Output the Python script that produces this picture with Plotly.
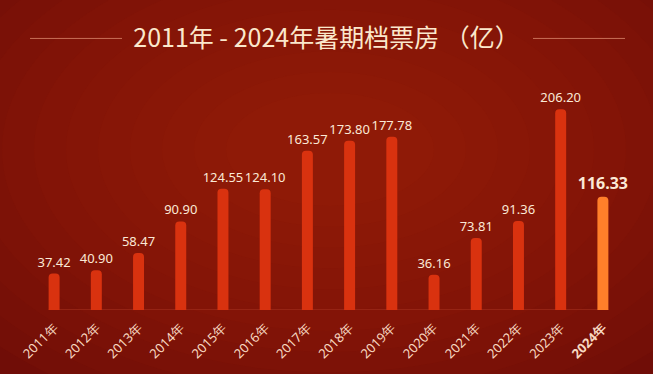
import plotly.graph_objects as go

years = ["2011年", "2012年", "2013年", "2014年", "2015年", "2016年", "2017年",
         "2018年", "2019年", "2020年", "2021年", "2022年", "2023年", "2024年"]
values = [37.42, 40.90, 58.47, 90.90, 124.55, 124.10, 163.57,
          173.80, 177.78, 36.16, 73.81, 91.36, 206.20, 116.33]
labels = [f"{v:.2f}" for v in values]
tick_text = [y if y != "2024年" else "<b>2024年</b>" for y in years]
bar_colors = ["#d9320f"] * 13 + ["#ff7f2a"]
text_sizes = [13] * 13 + [16]
text_labels = [l if i < 13 else f"<b>{l}</b>" for i, l in enumerate(labels)]
BAR_W = 0.26

fig = go.Figure()
fig.add_trace(go.Bar(
    x=years, y=values,
    width=BAR_W,
    marker=dict(color=bar_colors, line=dict(width=0), cornerradius=4),
    text=text_labels, textposition="outside", cliponaxis=False,
    constraintext="none",
    textfont=dict(color="#fbe9d6", size=text_sizes, family="Noto Sans"),
    hoverinfo="skip",
))

W, H = 653, 374
L, R, T, B = 33, 29, 86, 62
PW, PH = W - L - R, H - T - B


def px2paper_x(px):
    return (px - L) / PW


def px2paper_y(py):
    return (H - B - py) / PH


shapes = []
# soft background glow (many faint ellipses)
cx, cy = 330, 150
for k in range(14):
    rx = 520 - k * 32
    ry = 330 - k * 21
    shapes.append(dict(type="circle", xref="paper", yref="paper",
                       x0=px2paper_x(cx - rx), x1=px2paper_x(cx + rx),
                       y0=px2paper_y(cy + ry), y1=px2paper_y(cy - ry),
                       fillcolor="#a8260f", opacity=0.07, line=dict(width=0), layer="below"))
# baseline spanning the bars
shapes.append(dict(type="line", xref="x", yref="y", x0=-BAR_W / 2, x1=len(years) - 1 + BAR_W / 2,
                   y0=0, y1=0, line=dict(color="#9c2a1a", width=1.5), layer="below"))
# title decoration lines
ty = px2paper_y(38)
shapes.append(dict(type="line", xref="paper", yref="paper",
                   x0=px2paper_x(30), x1=px2paper_x(122), y0=ty, y1=ty,
                   line=dict(color="#c87058", width=1)))
shapes.append(dict(type="line", xref="paper", yref="paper",
                   x0=px2paper_x(533), x1=px2paper_x(625), y0=ty, y1=ty,
                   line=dict(color="#c87058", width=1)))

fig.update_layout(
    width=W, height=H,
    margin=dict(l=L, r=R, t=T, b=B),
    paper_bgcolor="#680907",
    plot_bgcolor="rgba(0,0,0,0)",
    showlegend=False,
    title=dict(text="2011年 - 2024年暑期档票房 （亿）", x=0.5, xanchor="center",
               y=1 - 38 / H, yanchor="middle",
               font=dict(family="Noto Sans CJK SC", size=25, color="#fbe8cc")),
    xaxis=dict(tickmode="array", tickvals=years, ticktext=tick_text, tickangle=-45,
               tickfont=dict(family="Noto Sans", size=13, color="#f8d8c0"),
               showgrid=False, showline=False, zeroline=False, ticks="",
               ticklabelstandoff=7),
    yaxis=dict(range=[0, 230], visible=False, showgrid=False, zeroline=False),
    shapes=shapes,
    font=dict(family="Noto Sans"),
)
fig.write_html("out.html", config={"displayModeBar": False},
               post_script="document.body.style.margin='0';document.body.style.overflow='hidden';")
